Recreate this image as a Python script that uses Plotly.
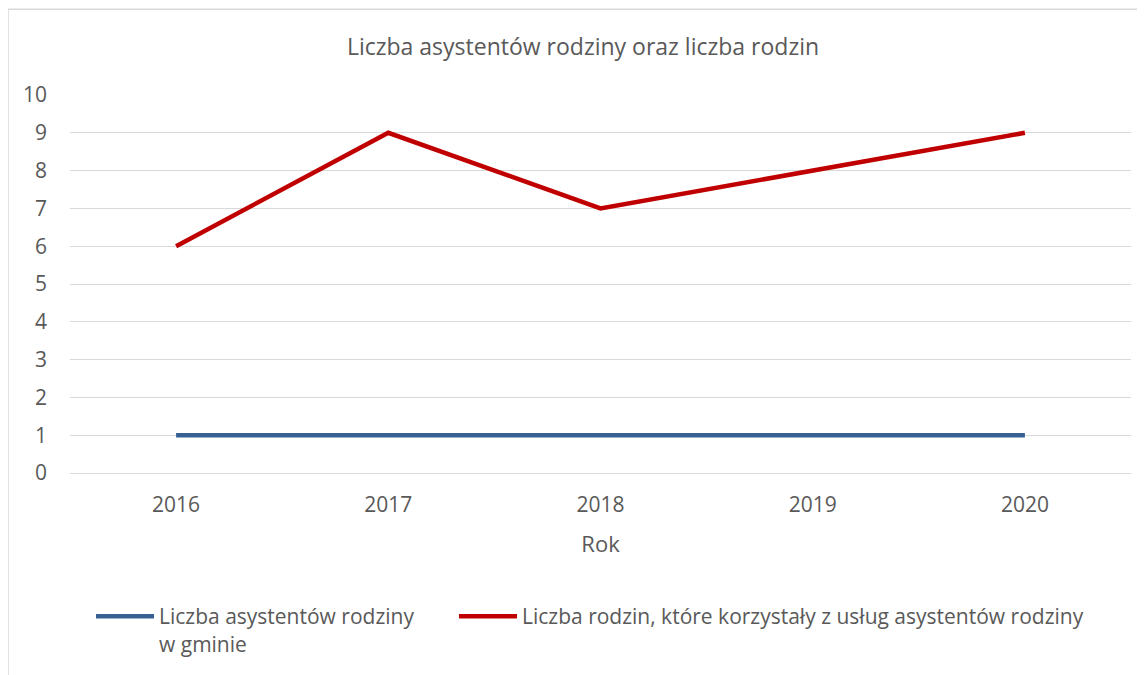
import plotly.graph_objects as go

years = ["2016", "2017", "2018", "2019", "2020"]
asystenci = [1, 1, 1, 1, 1]
rodziny = [6, 9, 7, 8, 9]
series_names = ["Liczba asystentów rodziny<br>w gminie",
                "Liczba rodzin, które korzystały z usług asystentów rodziny"]
y_ticks = list(range(0, 11))

FONT = "Open Sans"
GRAY = "#595959"
W, H = 1137, 667
L, R, T, B = 62, 14, 87, 201
PW, PH = W - L - R, H - T - B

def px(xf):
    return (xf - L) / PW

def py(yf):
    return (H - B - yf) / PH

fig = go.Figure()
fig.add_trace(go.Scatter(x=years, y=asystenci, mode="lines", name=series_names[0],
                         line=dict(color="#376092", width=4.5), legend="legend"))
fig.add_trace(go.Scatter(x=years, y=rodziny, mode="lines", name=series_names[1],
                         line=dict(color="#C00000", width=4.5), legend="legend2"))

leg_common = dict(orientation="h", xanchor="left", yanchor="top", valign="top",
                  itemwidth=58, font=dict(size=21, color=GRAY, family=FONT),
                  bgcolor="rgba(0,0,0,0)")

border = "M {x0} {y0} L {x0} {y1} L {x2} {y1}".format(
    x0=px(0), y0=py(900), y1=py(1), x2=px(1500))

fig.update_layout(
    width=W, height=H,
    margin=dict(l=L, r=R, t=T, b=B),
    paper_bgcolor="white", plot_bgcolor="white",
    font=dict(family=FONT, color=GRAY, size=21),
    title=dict(text="Liczba asystentów rodziny oraz liczba rodzin", x=575 / W, xanchor="center",
               y=1 - 39 / H, yanchor="middle", font=dict(size=23, color=GRAY, family=FONT)),
    showlegend=True,
    legend=dict(x=px(83), y=py(588), **leg_common),
    legend2=dict(x=px(446), y=py(588), **leg_common),
    shapes=[dict(type="path", xref="paper", yref="paper", path=border,
                 line=dict(color="#D9D9D9", width=1.5), layer="below")],
)
fig.update_xaxes(type="category", range=[-0.5, 4.5], showgrid=False, showline=False,
                 ticks="", tickfont=dict(size=21, color=GRAY), ticklabelstandoff=17,
                 title=dict(text="Rok", font=dict(size=22, color=GRAY), standoff=19))
fig.update_yaxes(range=[0, 10], tickvals=y_ticks, showgrid=True, gridcolor="#D9D9D9",
                 gridwidth=1, zeroline=True, zerolinecolor="#D9D9D9", zerolinewidth=1,
                 showline=False, ticks="", tickfont=dict(size=21, color=GRAY),
                 ticklabelstandoff=22)

fig.write_html("out.html")
